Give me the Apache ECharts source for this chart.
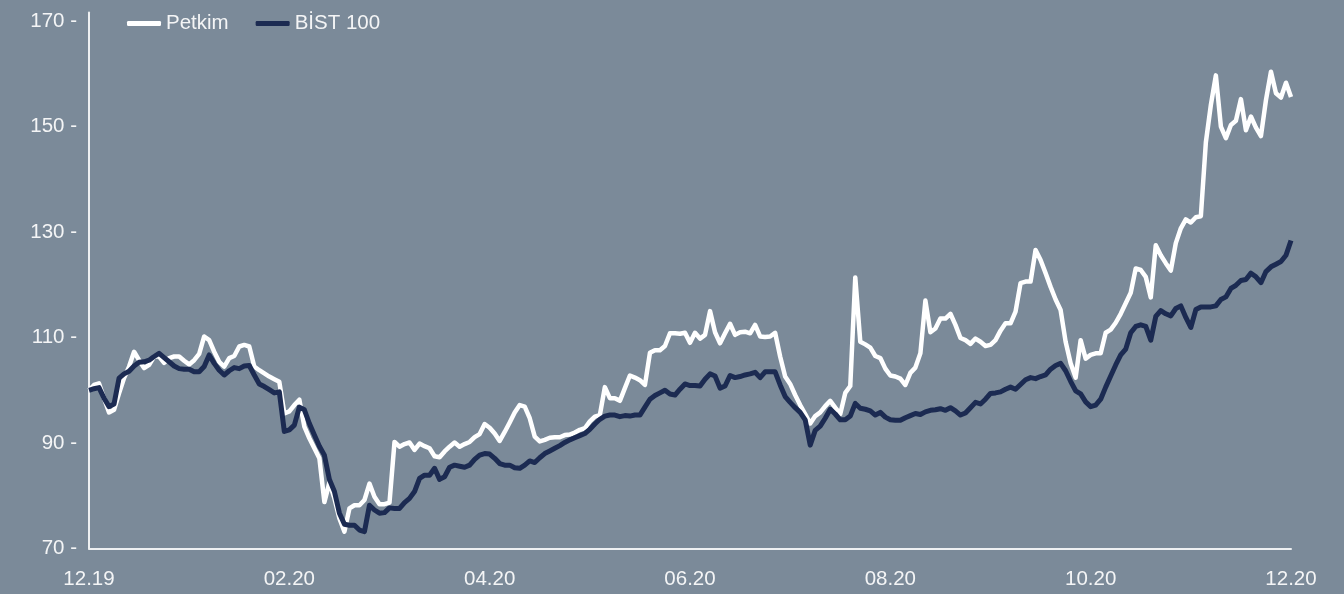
<!DOCTYPE html>
<html>
<head>
<meta charset="utf-8">
<script src="https://cdn.jsdelivr.net/npm/echarts@6/dist/echarts.min.js"></script>
<style>
html,body{margin:0;padding:0;background:#7b8a99;}
#chart{width:1344px;height:594px;}
</style>
</head>
<body>
<div id="chart"></div>
<script>
const seriesNames = ['Petkim', 'BİST 100'];
const tickLabels = ['12.19', '02.20', '04.20', '06.20', '08.20', '10.20', '12.20'];
const daysPerTick = 40;

const petkim = [
  100.0,101.0,101.3,98.5,95.8,96.3,99.4,102.3,104.5,107.3,
  105.7,104.2,104.8,106.4,106.4,105.2,106.1,106.4,106.4,105.6,
  104.9,105.7,106.9,110.2,109.5,107.3,105.4,104.5,106.1,106.5,
  108.3,108.6,108.3,104.5,103.8,103.2,102.6,102.1,101.6,95.6,
  96.0,97.2,98.2,93.1,90.9,89.0,87.1,78.8,82.5,79.5,
  75.7,73.2,77.6,78.2,78.2,79.2,82.3,79.8,78.4,78.4,
  78.7,90.2,89.3,89.8,90.1,88.7,89.9,89.4,89.0,87.5,
  87.3,88.4,89.3,90.1,89.3,89.8,90.2,91.1,91.7,93.6,
  92.9,91.8,90.4,92.1,93.9,95.8,97.2,96.9,94.7,91.2,
  90.3,90.6,91.0,91.1,91.1,91.5,91.6,92.0,92.5,92.8,
  94.1,95.0,95.3,100.6,98.5,98.5,98.0,100.4,102.8,102.4,
  101.9,101.0,107.1,107.6,107.6,108.4,110.8,110.8,110.7,110.9,
  109.0,110.9,109.8,110.5,115.0,111.0,108.9,110.8,112.6,110.5,
  111.0,111.1,110.8,112.4,110.2,110.1,110.2,110.9,106.4,102.6,
  101.2,99.1,97.2,95.5,93.7,95.1,95.8,97.0,98.0,96.7,
  95.5,99.5,100.8,121.4,109.2,108.7,108.1,106.5,106.1,104.1,
  102.8,102.6,102.2,101.0,103.3,104.3,107.0,117.0,111.0,111.7,
  113.6,113.6,114.5,112.4,109.9,109.5,108.8,109.8,109.2,108.4,
  108.6,109.5,111.3,112.7,112.7,114.9,120.3,120.6,120.6,126.6,
  124.7,122.2,119.6,117.2,115.2,109.2,105.1,102.4,109.5,106.0,
  106.7,107.0,107.0,110.9,111.5,112.8,114.5,116.5,118.5,123.1,
  122.8,121.5,117.6,127.5,125.6,124.1,122.7,127.9,130.7,132.4,
  131.8,132.8,133.0,147.0,154.1,159.7,150.0,147.8,150.3,151.1,
  155.2,149.3,151.9,149.8,148.2,155.0,160.4,156.3,155.5,158.3,155.6
];

const bist100 = [
  100.0,100.3,100.5,98.5,96.9,97.4,102.3,103.1,103.6,104.6,
  105.3,105.4,105.7,106.4,107.0,106.2,105.4,104.6,104.1,104.0,
  104.0,103.5,103.5,104.5,106.7,105.1,103.8,102.9,103.7,104.3,
  104.1,104.6,104.7,102.9,101.2,100.7,100.1,99.5,99.7,92.2,
  92.5,93.4,96.8,96.3,93.7,91.5,89.4,87.7,83.1,80.8,
  76.7,74.6,74.4,74.4,73.5,73.2,78.2,77.3,76.7,76.8,
  77.7,77.6,77.6,78.7,79.5,80.8,83.3,83.9,83.9,85.2,
  83.1,83.6,85.4,85.8,85.6,85.4,85.8,86.9,87.7,88.0,
  87.9,87.1,86.1,85.8,85.8,85.3,85.2,85.8,86.6,86.3,
  87.2,88.0,88.5,89.0,89.5,90.1,90.6,91.0,91.4,91.8,
  92.6,93.6,94.5,95.1,95.3,95.3,95.0,95.2,95.1,95.3,
  95.3,96.8,98.3,99.0,99.5,100.0,99.3,99.1,100.2,101.2,
  100.9,100.9,100.8,102.1,103.1,102.7,100.4,100.8,102.8,102.4,
  102.6,102.9,103.1,103.4,102.4,103.5,103.5,103.5,101.0,98.8,
  97.7,96.7,95.8,94.4,89.6,92.4,93.2,94.7,96.4,95.5,
  94.4,94.4,95.1,97.5,96.6,96.4,96.1,95.3,95.8,94.9,
  94.4,94.3,94.3,94.8,95.2,95.6,95.4,95.9,96.2,96.3,
  96.5,96.2,96.7,96.1,95.3,95.7,96.7,97.7,97.4,98.3,
  99.4,99.5,99.7,100.2,100.6,100.2,101.1,102.0,102.4,102.2,
  102.6,102.9,104.0,104.7,105.1,103.7,101.7,99.9,99.3,97.8,
  96.9,97.2,98.3,100.6,102.7,104.8,106.7,107.8,110.9,112.1,
  112.4,112.1,109.5,114.0,115.1,114.5,114.1,115.5,116.0,113.8,
  111.9,115.3,115.8,115.8,115.8,116.0,117.2,117.7,119.3,119.9,
  120.8,121.0,122.2,121.5,120.4,122.5,123.4,123.9,124.4,125.6,128.4
];

const dayIndex = petkim.map((_, i) => i);

const chart = echarts.init(document.getElementById('chart'));
const textColor = '#f4f5f6';
const axisColor = '#eef0f2';
const fontFamily = 'Arial, "Liberation Sans", Helvetica, sans-serif';
const fontSize = 20.5;

chart.setOption({
  backgroundColor: '#7b8a99',
  animation: false,
  legend: {
    left: 122,
    top: 8,
    icon: 'roundRect',
    itemWidth: 34,
    itemHeight: 5,
    itemGap: 27,
    textStyle: { color: textColor, fontSize: fontSize, fontFamily: fontFamily },
    data: [
      { name: seriesNames[0], itemStyle: { color: '#ffffff' } },
      { name: seriesNames[1], itemStyle: { color: '#1c2b52' } }
    ]
  },
  grid: { left: 89, right: 53, top: 12.6, bottom: 45.5, containLabel: false },
  xAxis: {
    type: 'category',
    boundaryGap: false,
    data: dayIndex,
    axisLine: { show: true, lineStyle: { color: axisColor, width: 2 } },
    axisTick: { show: false },
    axisLabel: {
      color: textColor,
      fontSize: fontSize,
      fontFamily: fontFamily,
      margin: 20,
      interval: (idx) => idx % daysPerTick === 0,
      formatter: (val, idx) => tickLabels[Math.round(idx / daysPerTick)] || ''
    },
    splitLine: { show: false }
  },
  yAxis: {
    type: 'value',
    min: 70,
    max: 171.6,
    interval: 20,
    axisLine: { show: true, lineStyle: { color: axisColor, width: 2 } },
    axisTick: { show: false },
    splitLine: { show: false },
    axisLabel: {
      color: textColor,
      fontSize: fontSize,
      fontFamily: fontFamily,
      margin: 12,
      showMaxLabel: false,
      formatter: (v) => (Math.abs((v - 70) % 20) < 1e-6 ? v + ' -' : '')
    }
  },
  series: [
    {
      name: seriesNames[0],
      type: 'line',
      data: petkim,
      showSymbol: false,
      symbol: 'none',
      lineStyle: { color: '#ffffff', width: 4.5, join: 'round' },
      itemStyle: { color: '#ffffff' },
      z: 2
    },
    {
      name: seriesNames[1],
      type: 'line',
      data: bist100,
      showSymbol: false,
      symbol: 'none',
      lineStyle: { color: '#1c2b52', width: 5, join: 'round' },
      itemStyle: { color: '#1c2b52' },
      z: 3
    }
  ]
});
</script>
</body>
</html>
